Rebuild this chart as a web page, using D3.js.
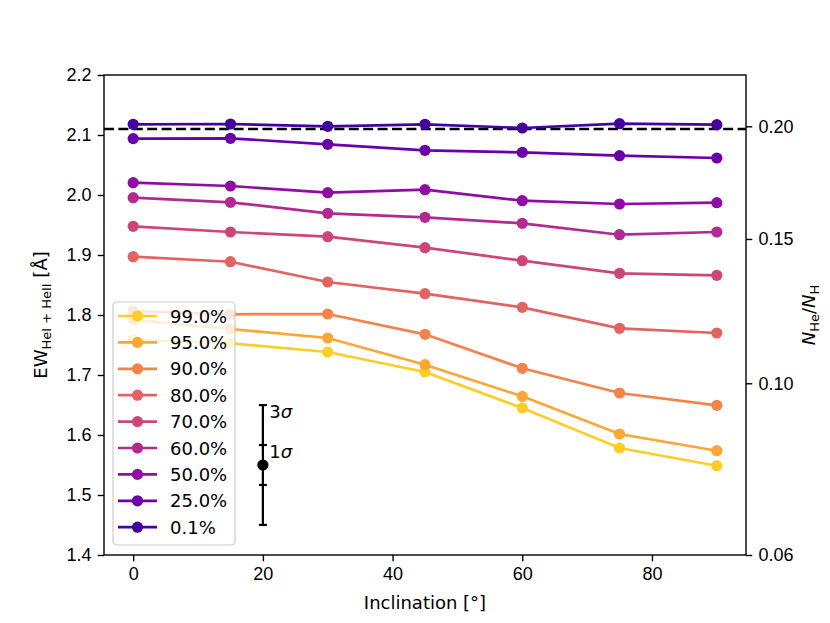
<!DOCTYPE html>
<html lang="en">
<head>
    <meta charset="UTF-8">
    <title>EW vs inclination</title>
    <script src="https://cdnjs.cloudflare.com/ajax/libs/d3/7.8.5/d3.min.js"></script>
    <style>
        body { margin: 0; background: #fff; }
        svg { font-family: "DejaVu Sans", sans-serif; }
        .tick text { font-size: 18px; fill: #000; }
        .tick line { stroke: #000; stroke-width: 1.4; }
    </style>
</head>
<body>
    <div id="chart"></div>
    <script>
        // Data
        const inclination = [0, 15, 30, 45, 60, 75, 90];
        const seriesLabels = ["99.0%", "95.0%", "90.0%", "80.0%", "70.0%", "60.0%", "50.0%", "25.0%", "0.1%"];
        const ew99 = [1.7595, 1.7528, 1.7383, 1.7050, 1.6450, 1.5783, 1.5488];
        const ew95 = [1.7920, 1.7767, 1.7617, 1.7172, 1.6645, 1.6017, 1.5738];
        const ew90 = [1.8067, 1.8012, 1.8017, 1.7678, 1.7112, 1.6700, 1.6495];
        const ew80 = [1.8972, 1.8888, 1.8550, 1.8355, 1.8128, 1.7778, 1.7700];
        const ew70 = [1.9478, 1.9383, 1.9305, 1.9122, 1.8905, 1.8695, 1.8662];
        const ew60 = [1.9955, 1.9878, 1.9695, 1.9628, 1.9528, 1.9338, 1.9383];
        const ew50 = [2.0205, 2.0150, 2.0038, 2.0088, 1.9905, 1.9850, 1.9872];
        const ew25 = [2.0940, 2.0945, 2.0845, 2.0745, 2.0710, 2.0655, 2.0617];
        const ew01 = [2.1178, 2.1183, 2.1145, 2.1178, 2.1117, 2.1188, 2.1172];
        const seriesValues = [ew99, ew95, ew90, ew80, ew70, ew60, ew50, ew25, ew01];

        const referenceEw = 2.11;
        const errPoint = { x: 20, y: 1.55, sigma: 0.0333 };

        const xTicks = [0, 20, 40, 60, 80];
        const yTicks = [1.4, 1.5, 1.6, 1.7, 1.8, 1.9, 2.0, 2.1, 2.2];
        // secondary axis: N_He/N_H tick values and the EW they sit at
        const ratioTicks = [0.06, 0.10, 0.15, 0.20];
        const ratioTickEw = [1.4, 1.6862, 1.9267, 2.1145];

        // Layout
        const width = 830, height = 623;
        const margin = { left: 104, right: 84, top: 75, bottom: 68 };
        const plotW = width - margin.left - margin.right;
        const plotH = height - margin.top - margin.bottom;

        const colors = seriesLabels.map((d, i) => d3.interpolatePlasma(0.9 - 0.1 * i));

        const svg = d3.select("#chart").append("svg")
            .attr("width", width)
            .attr("height", height);

        const g = svg.append("g")
            .attr("transform", `translate(${margin.left},${margin.top})`);

        const x = d3.scaleLinear().domain([-4.5, 94.5]).range([0, plotW]);
        const y = d3.scaleLinear().domain([1.4, 2.2]).range([plotH, 0]);
        const yRight = d3.scaleLinear().domain(ratioTicks).range(ratioTickEw.map(y));

        // Axes
        const tickLen = 6.3, tickPad = 6.3;
        g.append("g")
            .attr("transform", `translate(0,${plotH})`)
            .call(d3.axisBottom(x).tickValues(xTicks).tickFormat(d3.format("d"))
                .tickSize(tickLen).tickPadding(tickPad))
            .call(a => a.select(".domain").remove());

        g.append("g")
            .call(d3.axisLeft(y).tickValues(yTicks).tickFormat(d3.format(".1f"))
                .tickSize(tickLen).tickPadding(tickPad))
            .call(a => a.select(".domain").remove());

        g.append("g")
            .attr("transform", `translate(${plotW},0)`)
            .call(d3.axisRight(yRight).tickValues(ratioTicks).tickFormat(d3.format(".2f"))
                .tickSize(tickLen).tickPadding(tickPad))
            .call(a => a.select(".domain").remove());

        // Reference dashed line
        g.append("line")
            .attr("x1", 0).attr("x2", plotW)
            .attr("y1", y(referenceEw)).attr("y2", y(referenceEw))
            .attr("stroke", "#000")
            .attr("stroke-width", 2.7)
            .attr("stroke-dasharray", "10,4.4");

        // Series
        const line = d3.line()
            .x((d, i) => x(inclination[i]))
            .y(d => y(d));

        seriesValues.forEach((vals, i) => {
            const s = g.append("g");
            s.append("path")
                .datum(vals)
                .attr("d", line)
                .attr("fill", "none")
                .attr("stroke", colors[i])
                .attr("stroke-width", 2.7);
            s.selectAll("circle")
                .data(vals)
                .join("circle")
                .attr("cx", (d, j) => x(inclination[j]))
                .attr("cy", d => y(d))
                .attr("r", 5.6)
                .attr("fill", colors[i]);
        });

        // Error bar with 1 and 3 sigma
        const ex = x(errPoint.x);
        const capW = 4;
        g.append("line")
            .attr("x1", ex).attr("x2", ex)
            .attr("y1", y(errPoint.y - 3 * errPoint.sigma))
            .attr("y2", y(errPoint.y + 3 * errPoint.sigma))
            .attr("stroke", "#000").attr("stroke-width", 2.2);
        [-3, -1, 1, 3].forEach(k => {
            g.append("line")
                .attr("x1", ex - capW).attr("x2", ex + capW)
                .attr("y1", y(errPoint.y + k * errPoint.sigma))
                .attr("y2", y(errPoint.y + k * errPoint.sigma))
                .attr("stroke", "#000").attr("stroke-width", 2.2);
        });
        g.append("circle")
            .attr("cx", ex).attr("cy", y(errPoint.y))
            .attr("r", 5.6).attr("fill", "#000");
        [[3, "3"], [1, "1"]].forEach(([k, lab]) => {
            const t = g.append("text")
                .attr("x", x(21))
                .attr("y", y(errPoint.y + k * errPoint.sigma) + 13)
                .attr("font-size", 18);
            t.append("tspan").text(lab);
            t.append("tspan").attr("font-style", "italic").text("σ");
        });

        // Frame
        g.append("rect")
            .attr("width", plotW).attr("height", plotH)
            .attr("fill", "none")
            .attr("stroke", "#000")
            .attr("stroke-width", 1.4);

        // Legend
        const legend = g.append("g")
            .attr("transform", `translate(${113 - margin.left},${302 - margin.top})`);
        legend.append("rect")
            .attr("width", 122).attr("height", 243)
            .attr("rx", 4)
            .attr("fill", "#fff").attr("fill-opacity", 0.8)
            .attr("stroke", "#ccc").attr("stroke-width", 1.2);
        seriesLabels.forEach((lab, i) => {
            const row = legend.append("g")
                .attr("transform", `translate(0,${14 + i * 26.4})`);
            row.append("line")
                .attr("x1", 5).attr("x2", 44)
                .attr("stroke", colors[i]).attr("stroke-width", 2.7);
            row.append("circle")
                .attr("cx", 24.5).attr("r", 5.6).attr("fill", colors[i]);
            row.append("text")
                .attr("x", 57).attr("y", 6.5)
                .attr("font-size", 18)
                .text(lab);
        });

        // Axis labels
        svg.append("text")
            .attr("x", margin.left + plotW / 2)
            .attr("y", 609)
            .attr("text-anchor", "middle")
            .attr("font-size", 18)
            .text("Inclination [°]");

        const yl = svg.append("text")
            .attr("transform", `translate(47,${margin.top + plotH / 2}) rotate(-90)`)
            .attr("text-anchor", "middle")
            .attr("font-size", 18);
        yl.append("tspan").text("EW");
        yl.append("tspan").attr("font-size", 13).attr("dy", 4).text("HeI + HeII");
        yl.append("tspan").attr("dy", -4).text(" [Å]");

        const yr = svg.append("text")
            .attr("transform", `translate(815,${margin.top + plotH / 2}) rotate(-90)`)
            .attr("text-anchor", "middle")
            .attr("font-size", 18);
        yr.append("tspan").attr("font-style", "italic").text("N");
        yr.append("tspan").attr("font-size", 13).attr("dy", 4).text("He");
        yr.append("tspan").attr("dy", -4).text("/");
        yr.append("tspan").attr("font-style", "italic").text("N");
        yr.append("tspan").attr("font-size", 13).attr("dy", 4).text("H");
    </script>
</body>
</html>
